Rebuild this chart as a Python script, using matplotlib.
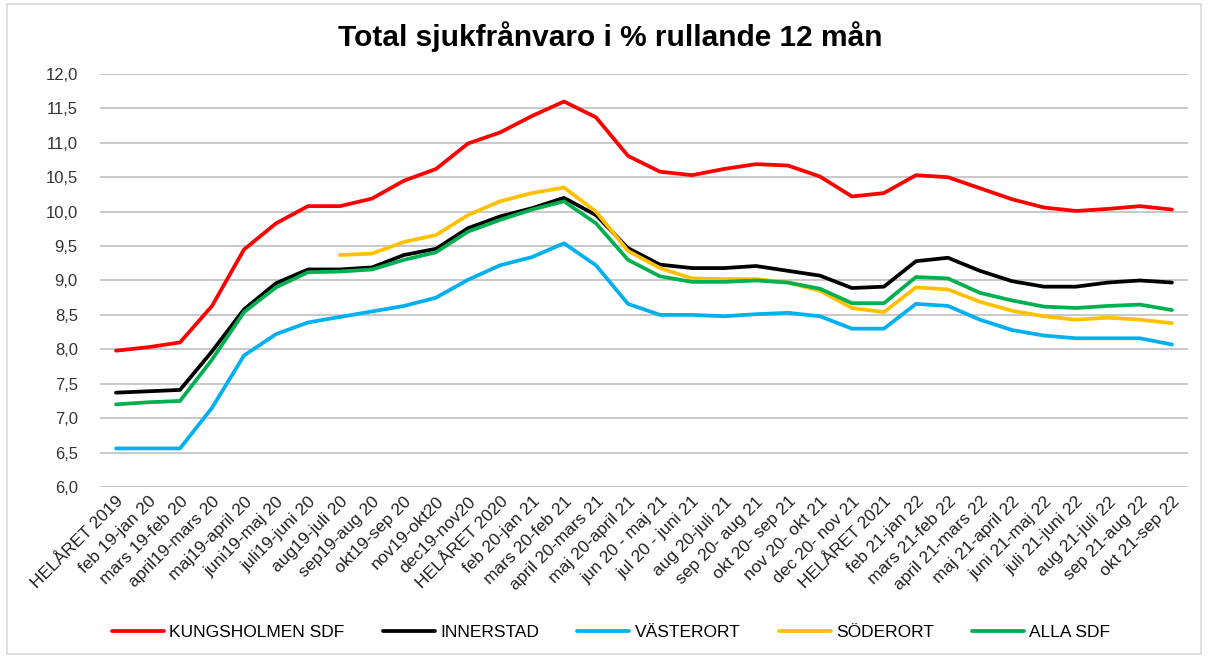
import numpy as np
import matplotlib
matplotlib.use("Agg")
from matplotlib import pyplot as plt
from matplotlib.patches import Rectangle

plt.rcParams['font.family'] = ['Liberation Sans', 'DejaVu Sans']

labels = ["HELÅRET 2019", "feb 19-jan 20", "mars 19-feb 20", "april19-mars 20",
          "maj19-april 20", "juni19-maj 20", "juli19-juni 20", "aug19-juli 20",
          "sep19-aug 20", "okt19-sep 20", "nov19-okt20", "dec19-nov20",
          "HELÅRET 2020", "feb 20-jan 21", "mars 20-feb 21", "april 20-mars 21",
          "maj 20-april 21", "jun 20 - maj 21", "jul 20 - juni 21", "aug 20-juli 21",
          "sep 20- aug 21", "okt 20- sep 21", "nov 20- okt 21", "dec 20- nov 21",
          "HELÅRET 2021", "feb 21-jan 22", "mars 21-feb 22", "april 21-mars 22",
          "maj 21-april 22", "juni 21-maj 22", "juli 21-juni 22", "aug 21-juli 22",
          "sep 21-aug 22", "okt 21-sep 22"]

kungsholmen = [7.98, 8.03, 8.10, 8.63, 9.45, 9.83, 10.08, 10.08, 10.19, 10.45, 10.62, 10.99,
               11.15, 11.39, 11.60, 11.37, 10.81, 10.58, 10.53, 10.62, 10.69, 10.67, 10.51,
               10.22, 10.27, 10.53, 10.50, 10.34, 10.18, 10.06, 10.01, 10.04, 10.08, 10.03]
innerstad = [7.37, 7.39, 7.41, 7.97, 8.58, 8.96, 9.16, 9.16, 9.19, 9.37, 9.46, 9.76,
             9.93, 10.05, 10.20, 9.95, 9.47, 9.23, 9.18, 9.18, 9.21, 9.14, 9.07,
             8.89, 8.91, 9.28, 9.33, 9.14, 8.99, 8.91, 8.91, 8.97, 9.00, 8.97]
vasterort = [6.56, 6.56, 6.56, 7.15, 7.91, 8.22, 8.39, 8.47, 8.55, 8.63, 8.75, 9.01,
             9.22, 9.34, 9.54, 9.22, 8.66, 8.50, 8.50, 8.48, 8.51, 8.53, 8.48,
             8.30, 8.30, 8.66, 8.63, 8.43, 8.28, 8.20, 8.16, 8.16, 8.16, 8.07]
soderort = [None] * 7 + [9.37, 9.39, 9.56, 9.66, 9.95, 10.15, 10.27, 10.35, 10.00, 9.43,
                         9.18, 9.03, 9.02, 9.02, 8.97, 8.85, 8.60, 8.54, 8.90, 8.87,
                         8.69, 8.56, 8.48, 8.43, 8.46, 8.43, 8.38]
alla_sdf = [7.20, 7.23, 7.25, 7.85, 8.54, 8.90, 9.12, 9.13, 9.16, 9.30, 9.41, 9.71,
            9.88, 10.03, 10.15, 9.83, 9.30, 9.06, 8.98, 8.98, 9.00, 8.97, 8.88,
            8.67, 8.67, 9.05, 9.03, 8.82, 8.71, 8.62, 8.60, 8.63, 8.65, 8.57]

series = [("KUNGSHOLMEN SDF", kungsholmen, "#FF0000"),
          ("INNERSTAD", innerstad, "#000000"),
          ("VÄSTERORT", vasterort, "#00B0F0"),
          ("SÖDERORT", soderort, "#FFC000"),
          ("ALLA SDF", alla_sdf, "#00B050")]

fig = plt.figure(figsize=(12.08, 6.57), dpi=100)
ax = fig.add_axes([0.0828, 0.2588, 0.9006, 0.6286])

x = np.arange(len(labels))
for name, vals, col in series:
    y = np.array([np.nan if v is None else v for v in vals], dtype=float)
    ax.plot(x, y, color=col, lw=2.7, label=name, solid_capstyle='round', solid_joinstyle='round')

ax.set_xlim(-0.5, len(labels) - 0.5)
ax.set_ylim(6.0, 12.0)
yt = np.arange(6.0, 12.01, 0.5)
ax.set_yticks(yt)
ax.set_yticklabels([f"{v:.1f}".replace(".", ",") for v in yt], fontsize=12, color="#333333")
ax.set_xticks(x)
ax.set_xticklabels(labels, rotation=45, ha='right', va='top', rotation_mode='anchor',
                   fontsize=12.5, color="#222222")
ax.tick_params(axis='both', length=0)
ax.tick_params(axis='y', pad=16)
ax.tick_params(axis='x', pad=5)
ax.grid(axis='y', color='#BFBFBF', lw=1.2)
ax.set_axisbelow(True)
for s in ax.spines.values():
    s.set_visible(False)

fig.text(0.505, 0.944, "Total sjukfrånvaro i % rullande 12 mån", ha='center', va='center',
         fontsize=21.5, fontweight='bold')

fig.legend(loc='center', bbox_to_anchor=(0.506, 0.038), ncol=5, frameon=False,
           fontsize=12.5, handlelength=3.0, handletextpad=0.3, columnspacing=2.2)

fig.add_artist(Rectangle((0.006, 0.004), 0.988, 0.99, transform=fig.transFigure,
                         fill=False, edgecolor='#D9D9D9', lw=1.2))

fig.savefig("out.png", dpi=100)
